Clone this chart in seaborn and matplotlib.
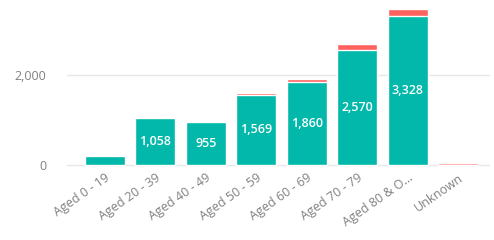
import pandas as pd
import matplotlib.pyplot as plt
import seaborn as sns

# Age groups and counts
AGE_GROUPS = ["Aged 0 - 19", "Aged 20 - 39", "Aged 40 - 49", "Aged 50 - 59",
              "Aged 60 - 69", "Aged 70 - 79", "Aged 80 & O...", "Unknown"]
MAIN_COUNTS = [200, 1058, 955, 1569, 1860, 2570, 3328, 0]
OTHER_COUNTS = [5, 12, 40, 45, 55, 130, 150, 45]
SHOW_LABEL = [False, True, True, True, True, True, True, False]

TEAL = "#01B8AA"
RED = "#FD625E"


def main():
    df = pd.DataFrame({
        'Group': AGE_GROUPS,
        'Main': MAIN_COUNTS,
        'Other': OTHER_COUNTS,
    })
    df['Total'] = df['Main'] + df['Other']

    sns.set_style("white")
    plt.rcParams['font.family'] = ['Open Sans', 'DejaVu Sans']

    fig = plt.figure(figsize=(4.94, 2.4), dpi=100)
    ax = fig.add_axes([67 / 494, 1 - 167 / 240, (490 - 67) / 494, (167 - 8) / 240])

    # stacked bars: draw totals in red, then the main part in teal on top
    sns.barplot(x='Group', y='Total', data=df, color=RED, width=0.79,
                saturation=1, ax=ax)
    sns.barplot(x='Group', y='Main', data=df, color=TEAL, width=0.79,
                saturation=1, ax=ax)

    for i, (v, show) in enumerate(zip(df['Main'], SHOW_LABEL)):
        if show:
            ax.text(i, v / 2, f"{v:,}", ha='center', va='center', color='white',
                    fontsize=9, fontweight='semibold')

    ax.set_xlim(-0.75, 7.63)
    ax.set_ylim(-40, 3500)
    ax.set_yticks([0, 2000])
    ax.set_yticklabels(["0", "2,000"])
    ax.grid(axis='y', color='#e8e8e8', linewidth=1)
    ax.set_axisbelow(True)
    for s in ax.spines.values():
        s.set_visible(False)
    ax.set_xlabel('')
    ax.set_ylabel('')
    ax.tick_params(axis='both', length=0, colors='#808080', labelsize=9)
    ax.tick_params(axis='y', pad=15)
    ax.tick_params(axis='x', pad=3)
    plt.setp(ax.get_xticklabels(), rotation=35, ha='right', rotation_mode='anchor')

    fig.savefig('out.png', dpi=100)


if __name__ == "__main__":
    main()
